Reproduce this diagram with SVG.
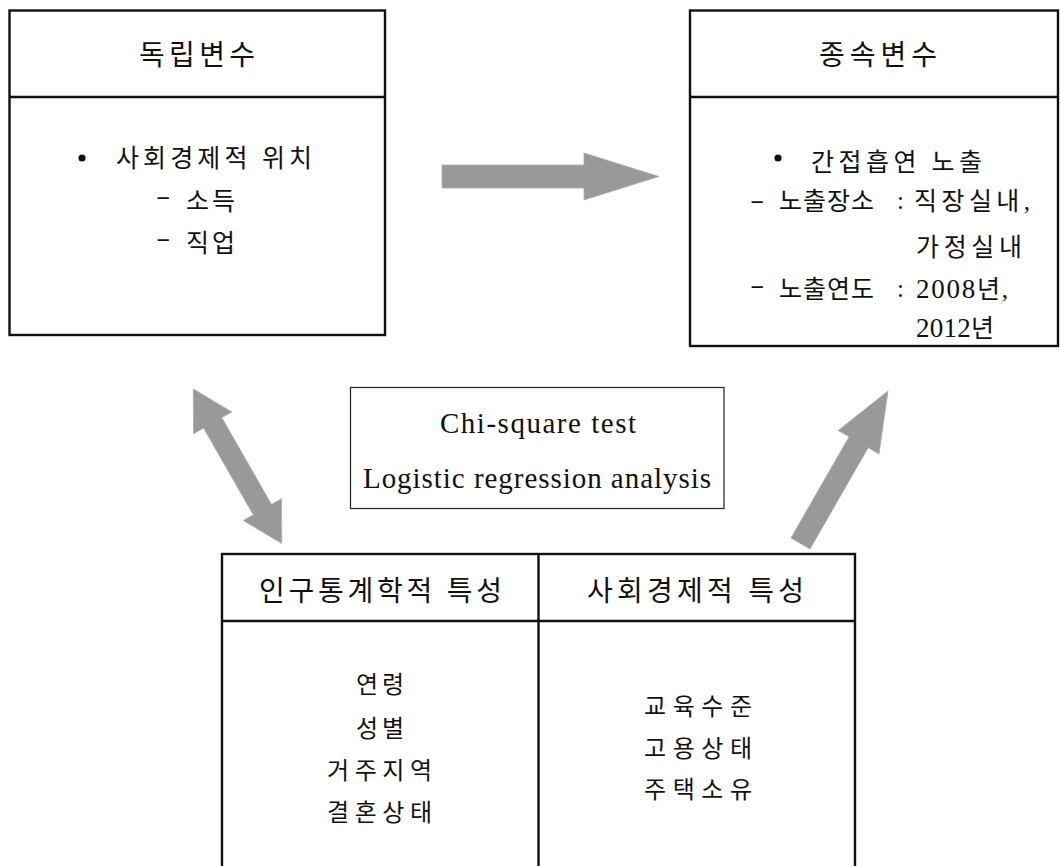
<svg xmlns="http://www.w3.org/2000/svg" width="1060" height="866" viewBox="0 0 1060 866">
<style>
.box{fill:#fff;stroke:#111;stroke-width:2.4}
.thin{fill:#fff;stroke:#222;stroke-width:1.2}
.ln{stroke:#111;stroke-width:2.4;fill:none}
.t{font-family:"Liberation Serif","Noto Sans CJK KR",serif;fill:#111}
.h{font-size:28px}
.b{font-size:25px}
.s{font-size:24px}
.e{font-size:29px}
.d{font-size:27px}
.arr{fill:#999;stroke:#b0b0b0;stroke-width:0.8}
</style>
<rect width="1060" height="866" fill="#fff"/>

<g id="connectors">
  <polygon class="arr" points="442,165 584,165 584,153 659,176.5 584,200 584,188 442,188"/>
  <polygon class="arr" transform="translate(193.3,389) rotate(60.2)" points="0,0 39,-22 39,-10.5 139,-10.5 139,-22 178,0 139,22 139,10.5 39,10.5 39,22"/>
  <polygon class="arr" transform="translate(800.5,543.5) rotate(-60.15)" points="0,-11 116.8,-11 116.8,-23.5 175.8,0 116.8,23.5 116.8,11 0,11"/>
</g>

<g id="independent">
  <rect class="box" x="9.5" y="10.5" width="375.5" height="324.5"/>
  <line class="ln" x1="9.5" y1="97" x2="385" y2="97"/>
  <text class="t h" x="139" y="65" textLength="116">독립변수</text>
  <circle cx="82" cy="158" r="3.6" fill="#111"/>
  <text class="t b" x="116" y="167" textLength="196">사회경제적 위치</text>
  <text class="t s" transform="translate(156,204) scale(1.8,1)">-</text>
  <text class="t b" x="186" y="210" textLength="49">소득</text>
  <text class="t s" transform="translate(156,246) scale(1.8,1)">-</text>
  <text class="t b" x="186" y="252" textLength="49">직업</text>
</g>

<g id="dependent">
  <rect class="box" x="690" y="10.5" width="368" height="335.5"/>
  <line class="ln" x1="690" y1="97" x2="1058" y2="97"/>
  <text class="t h" x="819" y="65" textLength="118">종속변수</text>
  <circle cx="778" cy="158" r="3.6" fill="#111"/>
  <text class="t b" x="811" y="171" textLength="171">간접흡연 노출</text>
  <text class="t s" transform="translate(750,208) scale(1.8,1)">-</text>
  <text class="t b" x="779" y="210" textLength="95">노출장소</text>
  <text class="t b" x="897" y="209">:</text>
  <text class="t b" x="914" y="210" textLength="116">직장실내,</text>
  <text class="t b" x="916" y="256" textLength="106">가정실내</text>
  <text class="t s" transform="translate(750,293) scale(1.8,1)">-</text>
  <text class="t b" x="779" y="298" textLength="95">노출연도</text>
  <text class="t b" x="897" y="297">:</text>
  <text class="t b" x="916" y="298" textLength="92"><tspan class="d">2008</tspan>년,</text>
  <text class="t b" x="916" y="337" textLength="78"><tspan class="d">2012</tspan>년</text>
</g>

<g id="methods">
  <rect class="thin" x="350.5" y="387.5" width="373.5" height="121"/>
  <text class="t e" x="440" y="433" textLength="196">Chi-square test</text>
  <text class="t e" x="363" y="488" textLength="348">Logistic regression analysis</text>
</g>

<g id="characteristics">
  <rect class="box" x="222" y="554" width="633" height="330"/>
  <line class="ln" x1="222" y1="621" x2="855" y2="621"/>
  <line class="ln" x1="538.5" y1="554" x2="538.5" y2="870"/>
  <text class="t h" x="259" y="601" textLength="243">인구통계학적 특성</text>
  <text class="t h" x="587" y="601" textLength="217">사회경제적 특성</text>
  <text class="t s" x="356" y="693" textLength="48">연령</text>
  <text class="t s" x="356" y="737" textLength="48">성별</text>
  <text class="t s" x="327" y="779" textLength="105">거주지역</text>
  <text class="t s" x="327" y="821" textLength="105">결혼상태</text>
  <text class="t s" x="644" y="715" textLength="108">교육수준</text>
  <text class="t s" x="644" y="757" textLength="108">고용상태</text>
  <text class="t s" x="644" y="798" textLength="108">주택소유</text>
</g>
</svg>
